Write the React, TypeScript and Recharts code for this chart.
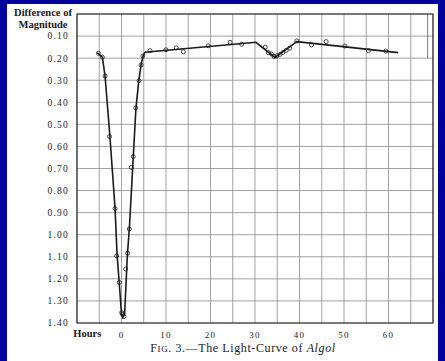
import React from 'react';
import {
  ComposedChart,
  Line,
  Scatter,
  XAxis,
  YAxis,
  CartesianGrid,
  ReferenceArea,
  ReferenceLine,
} from 'recharts';

// hours from primary minimum, grid every 5 h
const hourTicks = [-10, -5, 0, 5, 10, 15, 20, 25, 30, 35, 40, 45, 50, 55, 60, 65, 70];
const labeledHours = [0, 10, 20, 30, 40, 50, 60];
const magTicks = [0.1, 0.2, 0.3, 0.4, 0.5, 0.6, 0.7, 0.8, 0.9, 1.0, 1.1, 1.2, 1.3, 1.4];

// drawn light-curve
const curveHours = [-5.4, -4.3, -3.7, -2.6, -1.45, -1.0, -0.5, 0.0, 0.3, 0.7, 1.3, 1.8, 2.65, 3.25, 3.9, 4.4, 4.9, 5.3, 30.2, 34.5, 39.4, 62.2];
const curveMag = [0.176, 0.195, 0.28, 0.555, 0.88, 1.09, 1.22, 1.36, 1.375, 1.36, 1.1, 0.96, 0.645, 0.425, 0.3, 0.23, 0.186, 0.173, 0.128, 0.197, 0.125, 0.175];

// observed points
const obsHours = [-5.2, -4.3, -3.7, -2.7, -1.46, -1.08, -0.49, 0.04, 0.2, 0.56, 0.94, 1.39, 1.76, 2.2, 2.65, 3.2, 3.93, 4.38, 4.8, 6.4, 10, 12.3, 13.9, 19.5, 24.4, 27, 32.3, 33, 33.7, 34.3, 34.9, 35.6, 36.3, 37, 37.8, 39.4, 42.7, 46, 50.2, 55.5, 59.4];
const obsMag = [0.178, 0.196, 0.281, 0.555, 0.882, 1.096, 1.216, 1.353, 1.36, 1.371, 1.155, 1.084, 0.974, 0.695, 0.646, 0.425, 0.302, 0.231, 0.19, 0.166, 0.162, 0.153, 0.171, 0.144, 0.128, 0.137, 0.15, 0.175, 0.181, 0.192, 0.19, 0.183, 0.174, 0.165, 0.155, 0.122, 0.14, 0.125, 0.145, 0.166, 0.168];

const curve = curveHours.map((h, i) => ({ h, m: curveMag[i] }));
const obs = obsHours.map((h, i) => ({ h, m: obsMag[i] }));

const serif = '"Liberation Serif", "DejaVu Serif", serif';
const ink = '#1a1a1a';

const HourTick = (props: any) => {
  const { x, y, payload } = props;
  const v = payload.value;
  if (v === -5) {
    return (
      <text x={x + 2} y={y + 10} textAnchor="end" fontFamily={serif} fontSize={10.5} fontWeight="bold" fill={ink}>
        Hours
      </text>
    );
  }
  if (labeledHours.includes(v)) {
    return (
      <text x={x} y={y + 11} textAnchor="middle" fontFamily={serif} fontSize={9} letterSpacing={1.2} fill={ink}>
        {v}
      </text>
    );
  }
  return <g />;
};

const Ring = (props: any) => (
  <circle cx={props.cx} cy={props.cy} r={2} fill="none" stroke={ink} strokeWidth={0.8} />
);

export default function App() {
  return (
    <div style={{ position: 'absolute', left: 0, top: 0, width: 445, height: 361, background: '#00009a', overflow: 'hidden' }}>
      <div style={{ position: 'absolute', left: 7, top: 4, width: 431, height: 357, background: '#fff' }} />
      <div style={{ position: 'absolute', left: 0, top: 0 }}>
        <ComposedChart width={445} height={361} margin={{ top: 14, right: 12, bottom: 8, left: 0 }}>
          <CartesianGrid stroke="#8a8a8a" strokeWidth={0.8} />
          <XAxis
            type="number"
            dataKey="h"
            domain={[-10, 70]}
            ticks={hourTicks}
            interval={0}
            height={30}
            tickSize={0}
            tickMargin={4}
            axisLine={false}
            tick={<HourTick />}
          />
          <YAxis
            type="number"
            dataKey="m"
            domain={[0, 1.4]}
            ticks={magTicks}
            interval={0}
            reversed
            width={77}
            tickSize={0}
            tickMargin={8}
            axisLine={false}
            tickFormatter={(v: number) => v.toFixed(2)}
            tick={{ fontFamily: serif, fontSize: 9.5, fill: ink, letterSpacing: 1.2 }}
          />
          <ReferenceArea x1={-10} x2={70} y1={0} y2={1.4} fill="none" stroke="#222" strokeWidth={1.1} />
          <ReferenceLine segment={[{ x: 68.8, y: 0 }, { x: 68.8, y: 0.2 }]} stroke="#555" strokeWidth={0.8} />
          <Line data={curve} dataKey="m" type="linear" stroke={ink} strokeWidth={1.6} dot={false} isAnimationActive={false} />
          <Scatter data={obs} dataKey="m" shape={<Ring />} isAnimationActive={false} />
        </ComposedChart>
      </div>
      <div style={{ position: 'absolute', left: 9, top: 7, width: 68, textAlign: 'center', fontFamily: serif, fontSize: 10.5, fontWeight: 'bold', lineHeight: '12px', color: ink }}>
        Difference of
        <br />
        Magnitude
      </div>
      <div style={{ position: 'absolute', left: 100, top: 341, width: 286, textAlign: 'center', fontFamily: serif, fontSize: 12, letterSpacing: 0.6, color: ink, whiteSpace: 'nowrap' }}>
        F<span style={{ fontSize: 9 }}>IG</span>. 3.—The Light-Curve of <i>Algol</i>
      </div>
    </div>
  );
}
